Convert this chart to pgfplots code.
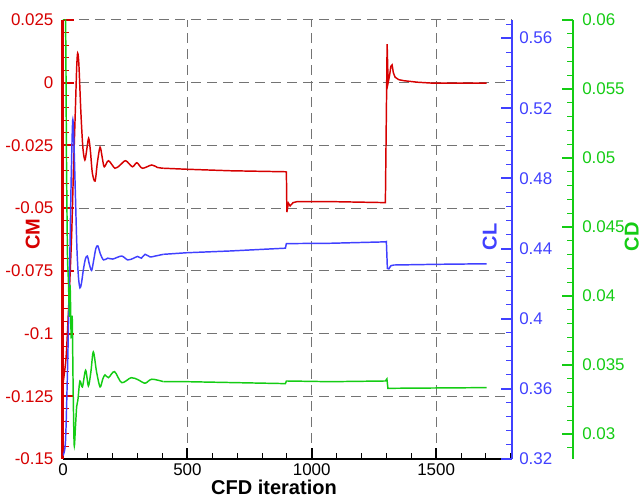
\documentclass[border=0pt]{standalone}
\usepackage{fontspec}
\setmainfont{Liberation Sans}
\usepackage{pgfplots}
\pgfplotsset{compat=1.18}
\definecolor{cmred}{RGB}{214,0,0}
\definecolor{clblue}{RGB}{64,64,255}
\definecolor{cdgreen}{RGB}{20,204,20}
\newcommand\tickfont{\fontsize{12.7}{14}\selectfont}
\newcommand\labfont{\fontsize{15}{18}\selectfont\bfseries}

\pgfplotsset{
  base/.style={
    scale only axis, width=336.75pt, height=329.25pt,
    at={(0,0)}, anchor=south west,
    xmin=0, xmax=1805,
    tick align=inside,
    major tick length=8.25pt, minor tick length=4.5pt,
    tick label style={font=\tickfont, inner sep=0pt},
    /pgf/number format/assume math mode=true,
    /pgf/number format/1000 sep={},
    scaled ticks=false,
    axis line style={-},
  }
}

\begin{document}
\begin{tikzpicture}
\path[use as bounding box] (-47.25pt,-29.25pt) rectangle (435pt,344.25pt);

% CM (left axis)
\begin{axis}[base,
  ymin=-0.15, ymax=0.025,
  axis x line*=bottom, axis y line*=left,
  xtick={0,500,1000,1500}, minor xtick={100,200,...,1800},
  ytick={-0.15,-0.125,-0.1,-0.075,-0.05,-0.025,0,0.025},
  minor ytick={-0.145,-0.14,...,0.021},
  xmajorgrids, ymajorgrids,
  grid style={black!55, line width=0.75pt, dash pattern=on 7.5pt off 4.5pt},
  x axis line style={black, line width=1.9pt},
  y axis line style={cmred, line width=2.25pt},
  x tick style={black, line width=1.5pt},
  minor x tick style={line width=0.75pt},
  y tick style={cmred, line width=1.5pt},
  minor y tick style={line width=0.75pt},
  xticklabel style={yshift=-3pt},
  yticklabel style={text=cmred, xshift=-7pt, /pgf/number format/fixed, /pgf/number format/precision=3},
]
\addplot[cmred, line width=1.1pt, smooth] coordinates {
(0,-0.12)(12,-0.11)(20,-0.095)(27,-0.08)(35,-0.06)(42,-0.035)
(50,-0.01)(55,0.006)(59,0.0118)(64,0.007)(72,-0.012)(80,-0.026)(88,-0.0308)(95,-0.027)
(103,-0.0222)(110,-0.027)(118,-0.036)(129,-0.0392)(138,-0.032)(149,-0.0257)(158,-0.030)
(166,-0.0335)(183,-0.0311)(209,-0.0341)(230,-0.0328)(252,-0.0311)(279,-0.0335)(297,-0.0319)
(319,-0.0341)(357,-0.0328)(380,-0.0338)(404,-0.0341)
};
\addplot[cmred, line width=1.1pt] coordinates {
(404,-0.0341)(498,-0.0345)(672,-0.0351)(894,-0.0355)
(898,-0.0356)(900,-0.0516)(906,-0.048)(913,-0.0491)(925,-0.0478)(941,-0.0474)(1075,-0.0474)
(1296,-0.0478)(1303,0.0154)(1307,0.0)(1313,0.003)(1318,0.0065)(1323,0.0071)(1328,0.004)
(1335,0.0022)(1350,0.0012)(1370,0.0008)(1424,0.0002)(1490,-0.0002)(1703,-0.0002)
};
\end{axis}

% CL (right axis)
\begin{axis}[base,
  ymin=0.32, ymax=0.5703,
  axis x line=none, axis y line*=right,
  ytick={0.32,0.36,0.4,0.44,0.48,0.52,0.56},
  minor ytick={0.328,0.336,...,0.569},
  y axis line style={clblue, line width=1.5pt},
  y tick style={clblue, line width=1.5pt},
  minor y tick style={line width=0.75pt},
  yticklabel style={text=clblue, xshift=5.25pt, /pgf/number format/fixed, /pgf/number format/precision=2},
]
\addplot[clblue, line width=1.1pt, smooth] coordinates {
(0,0.322)(10,0.33)(18,0.37)(24,0.41)(28,0.44)(33,0.48)(39,0.513)(44,0.5)(50,0.47)(56,0.44)
(62,0.424)(68,0.4176)(74,0.42)(82,0.428)(90,0.434)(98,0.4357)(106,0.431)(115,0.4275)
(123,0.433)(132,0.440)(140,0.4415)(150,0.437)(163,0.4335)(180,0.4345)(200,0.434)(236,0.4357)
(260,0.4335)(283,0.4344)(300,0.4355)(315,0.4345)(330,0.4367)(350,0.4352)(370,0.4357)
(404,0.4367)
};
\addplot[clblue, line width=1.1pt] coordinates {
(404,0.4367)(498,0.4376)(672,0.4386)(894,0.4402)(898,0.4428)(1075,0.4430)(1296,0.4438)
(1300,0.444)(1304,0.4287)(1310,0.4284)(1318,0.4302)(1330,0.4306)(1504,0.431)(1703,0.4313)
};
\end{axis}

% CD (outer right axis)
\begin{axis}[base,
  width=382.5pt, xmax=2050,
  ymin=0.0282, ymax=0.06,
  axis x line=none, axis y line*=right,
  ytick={0.03,0.035,0.04,0.045,0.05,0.055,0.06},
  minor ytick={0.029,0.030,...,0.0595},
  y axis line style={cdgreen, line width=1.5pt},
  y tick style={cdgreen, line width=1.5pt},
  minor y tick style={line width=0.75pt},
  yticklabel style={text=cdgreen, xshift=6.75pt, /pgf/number format/fixed, /pgf/number format/precision=3},
]
\addplot[cdgreen, line width=1.1pt, smooth] coordinates {
(0,0.06)(10,0.06)(14,0.05)(18,0.043)(22,0.041)(26,0.0385)(29,0.0405)(33,0.037)(37,0.0385)
(41,0.033)(45,0.0292)(50,0.0305)(55,0.032)(60,0.0325)(68,0.03385)(78,0.03342)(91,0.03463)
(102,0.03349)(112,0.0345)(122,0.03596)(135,0.0345)(149,0.03342)(160,0.0340)(169,0.03429)
(183,0.03409)(207,0.03453)(236,0.03373)(274,0.03409)(303,0.03393)(330,0.03369)(357,0.03398)
(404,0.0338)
};
\addplot[cdgreen, line width=1.1pt] coordinates {
(404,0.0338)(498,0.0338)(894,0.03366)(898,0.03385)(1075,0.0338)(1296,0.03385)(1302,0.0340)
(1306,0.03332)(1314,0.03332)(1703,0.03337)
};
\end{axis}

% axis titles
\node[font=\labfont, text=cmred, rotate=90, anchor=south, inner sep=0pt] at (-17.25pt,168.75pt) {CM};
\node[font=\labfont, text=clblue, rotate=90, anchor=south, inner sep=0pt] at (325.5pt,166.5pt) {CL};
\node[font=\labfont, text=cdgreen, rotate=90, anchor=north, inner sep=0pt] at (421pt,166.5pt) {CD};
\node[font=\labfont, anchor=center, inner sep=0pt] at (158.25pt,-21pt) {CFD iteration};
\end{tikzpicture}
\end{document}
